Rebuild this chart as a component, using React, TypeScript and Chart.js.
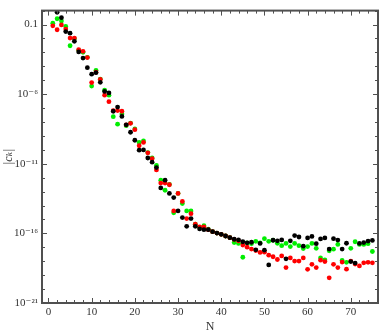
import React, { useEffect, useRef } from "react";
import { Chart, registerables } from "chart.js";

Chart.register(...registerables);

const nValues = [
  1, 2, 3, 4, 5, 6, 7, 8, 9, 10, 11, 12, 13, 14, 15, 16, 17, 18, 19, 20,
  21, 22, 23, 24, 25, 26, 27, 28, 29, 30, 31, 32, 33, 34, 35, 36, 37, 38, 39, 40,
  41, 42, 43, 44, 45, 46, 47, 48, 49, 50, 51, 52, 53, 54, 55, 56, 57, 58, 59, 60,
  61, 62, 63, 64, 65, 66, 67, 68, 69, 70, 71, 72, 73, 74, 75,
];

const blackValues: (number | null)[] = [
  null, 7.5e-1, 3.1e-1, 3.1e-2, 2.4e-2, 6.2e-3, 1.07e-3, 3.9e-4, 7.9e-5, 2.7e-5,
  3.5e-5, 7.1e-6, 1.56e-6, 1.23e-6, 5.9e-8, 1.17e-7, 2.5e-8, 6.3e-9, 1.84e-9, 4.9e-10,
  9.4e-11, 9.8e-11, 2.6e-11, 1.29e-11, 5.3e-12, 1.84e-13, 6.6e-13, 7.4e-14, 3.7e-14, 4.1e-15,
  1.36e-15, 3.2e-16, 1.16e-15, 3.2e-16, 2.1e-16, 1.84e-16, 1.84e-16, 1.33e-16, 1.05e-16, 8.5e-17,
  6.5e-17, 4.9e-17, 3.8e-17, 3.4e-17, 2.5e-17, 2.1e-17, 2.3e-17, 6.6e-18, 1.9e-17, 6.2e-18,
  5.4e-19, 3.2e-17, 2.9e-17, 3.4e-17, 1.5e-18, 2.9e-17, 7.0e-17, 5.5e-17, 1.21e-17, 4.7e-17,
  6.0e-17, 1.81e-17, 4.0e-17, 4.7e-17, 7.5e-18, 4.2e-17, 3.3e-17, 7.5e-18, 1.96e-17, 9.4e-19,
  7.4e-19, 1.9e-17, 2.2e-17, 2.8e-17, 3.1e-17,
];

const redValues = [
  8.0e-2, 4.2e-2, 9.4e-2, 4.7e-2, 1.07e-2, 1.07e-2, 1.56e-3, 1.19e-3, 4.2e-4, 6.8e-6,
  3.8e-5, 1.16e-5, 8.5e-7, 2.9e-7, 6.4e-8, 6.6e-8, 5.9e-8, 6.3e-9, 8.0e-9, 2.8e-9,
  1.96e-10, 3.4e-10, 6.1e-11, 2.3e-11, 3.6e-12, 4.1e-13, 4.1e-13, 3.1e-13, 4.1e-15, 7.4e-14,
  1.96e-14, 1.16e-15, 2.6e-15, 4.6e-16, 2.9e-16, 2.9e-16, 1.84e-16, 1.33e-16, 1.05e-16, 8.5e-17,
  6.5e-17, 4.9e-17, 3.7e-17, 2.9e-17, 1.47e-17, 1.03e-17, 7.5e-18, 5.9e-18, 4.3e-18, 4.5e-18,
  2.7e-18, 2.1e-18, 1.33e-18, 2.4e-18, 3.5e-19, 1.72e-18, 1.02e-18, 1.02e-18, 1.72e-18, 2.6e-19,
  6.0e-19, 3.5e-19, 1.19e-18, 9.4e-19, 6.4e-20, 6.0e-19, 3.5e-19, 8.7e-19, 2.7e-19, 1.02e-18,
  6.3e-19, 4.6e-19, 7.7e-19, 8.3e-19, 7.7e-19,
];

const greenValues = [
  1.23e-1, 2.6e-1, 1.78e-1, 7.3e-2, 3.0e-3, 9.5e-3, 1.4e-3, 1.02e-3, 4.4e-4, 3.8e-6,
  5.1e-5, 1.21e-5, 1.9e-6, 8.5e-7, 2.4e-8, 7.0e-9, 3.8e-8, 5.4e-9, 8.3e-9, 3.2e-9,
  3.4e-10, 4.4e-10, 6.4e-11, 2.6e-11, 7.6e-12, 6.6e-13, 1.25e-13, 3.3e-13, 3.0e-15, 7.4e-14,
  1.38e-14, 4.1e-15, 4.1e-15, 4.6e-16, 2.7e-16, 3.6e-16, 2.0e-16, 1.33e-16, 1.05e-16, 8.5e-17,
  6.5e-17, 4.9e-17, 2.2e-17, 1.9e-17, 1.93e-18, 2.1e-17, 1.81e-17, 2.7e-17, 2.1e-17, 4.2e-17,
  2.7e-17, 3.2e-17, 1.96e-17, 1.31e-17, 1.9e-17, 1.12e-17, 1.9e-17, 1.31e-17, 8.1e-18, 1.12e-17,
  1.9e-17, 8.5e-18, 1.72e-18, 1.25e-18, 5.6e-18, 7.3e-18, 1.61e-17, 1.14e-18, 8.3e-19, 8.5e-18,
  2.5e-17, 1.61e-17, 1.61e-17, 1.81e-17, 5.0e-18,
];

const xTickValues = [0, 10, 20, 30, 40, 50, 60, 70];
const xTickLabels = ["0", "10", "20", "30", "40", "50", "60", "70"];
const yTickValues = [1e-1, 1e-6, 1e-11, 1e-16, 1e-21];
const yTickLabels = ["0.1", "10\u207B\u2076", "10\u207B\u00B9\u00B9", "10\u207B\u00B9\u2076", "10\u207B\u00B2\u00B9"];

const FONT = "'Liberation Serif', 'DejaVu Serif', serif";
const AXIS_COLOR = "#505050";

const framePlugin = {
  id: "mmaFrame",
  afterDatasetsDraw(chart: any) {
    const { ctx, chartArea, scales } = chart;
    const { left, right, top, bottom } = chartArea;
    const xs = scales.x;
    const ys = scales.y;
    ctx.save();
    ctx.strokeStyle = AXIS_COLOR;
    ctx.lineWidth = 1;
    ctx.beginPath();
    for (let v = 0; v <= xs.max; v += 2) {
      const px = Math.round(xs.getPixelForValue(v)) + 0.5;
      const len = v % 10 === 0 ? 5 : 3;
      ctx.moveTo(px, bottom);
      ctx.lineTo(px, bottom - len);
      ctx.moveTo(px, top);
      ctx.lineTo(px, top + len);
    }
    for (let e = -21; e <= 0; e++) {
      const py = Math.round(ys.getPixelForValue(Math.pow(10, e))) + 0.5;
      const len = (e + 21) % 5 === 0 ? 5 : 3;
      ctx.moveTo(left, py);
      ctx.lineTo(left + len, py);
      ctx.moveTo(right, py);
      ctx.lineTo(right - len, py);
    }
    ctx.stroke();
    ctx.lineWidth = 2;
    ctx.strokeRect(left, top, right - left, bottom - top);
    ctx.restore();
  },
};

function makeData(values: (number | null)[]) {
  return nValues.map((n, i) => ({ x: n, y: values[i] }));
}

export default function App() {
  const canvasRef = useRef<HTMLCanvasElement | null>(null);

  useEffect(() => {
    document.body.style.margin = "0";
    const canvas = canvasRef.current;
    if (!canvas) return;
    const chart = new Chart(canvas, {
      type: "scatter",
      data: {
        datasets: [
          { label: "black", data: makeData(blackValues), backgroundColor: "#000000", pointRadius: 2.4, borderWidth: 0 },
          { label: "red", data: makeData(redValues), backgroundColor: "#ff0000", pointRadius: 2.4, borderWidth: 0 },
          { label: "green", data: makeData(greenValues), backgroundColor: "#00ee00", pointRadius: 2.4, borderWidth: 0 },
        ],
      },
      options: {
        responsive: false,
        animation: false,
        devicePixelRatio: 1,
        layout: { padding: { top: 1, right: 4, left: 0, bottom: 0 } },
        plugins: {
          legend: { display: false },
          tooltip: { enabled: false },
        },
        scales: {
          x: {
            type: "linear",
            min: -1.5,
            max: 76.3,
            grid: { display: false, drawTicks: false },
            border: { display: false },
            afterBuildTicks: (scale: any) => {
              scale.ticks = xTickValues.map((v) => ({ value: v }));
            },
            afterFit: (scale: any) => {
              scale.height = 32;
            },
            ticks: {
              autoSkip: false,
              maxRotation: 0,
              padding: 3,
              color: "#333",
              font: { family: FONT, size: 11 },
              callback: (value: any) => {
                const i = xTickValues.indexOf(Number(value));
                return i >= 0 ? xTickLabels[i] : "";
              },
            },
            title: {
              display: true,
              text: "N",
              color: "#333",
              font: { family: FONT, size: 12 },
              padding: { top: 0, bottom: 1 },
            },
          },
          y: {
            type: "logarithmic",
            min: 1e-21,
            max: 1,
            grid: { display: false, drawTicks: false },
            border: { display: false },
            afterBuildTicks: (scale: any) => {
              scale.ticks = yTickValues.map((v) => ({ value: v }));
            },
            afterFit: (scale: any) => {
              scale.width = 42;
            },
            ticks: {
              autoSkip: false,
              padding: 4,
              color: "#333",
              font: { family: FONT, size: 11 },
              callback: (value: any) => {
                const v = Number(value);
                const i = yTickValues.findIndex((t) => Math.abs(Math.log10(t) - Math.log10(v)) < 1e-6);
                return i >= 0 ? yTickLabels[i] : "";
              },
            },
            title: {
              display: true,
              text: "|c\u2096|",
              color: "#333",
              font: { family: FONT, size: 12, style: "italic" },
              padding: { top: 2, bottom: 0 },
            },
          },
        },
      },
      plugins: [framePlugin],
    });
    return () => chart.destroy();
  }, []);

  return (
    <div style={{ width: 382, height: 335 }}>
      <canvas ref={canvasRef} width={382} height={335} />
    </div>
  );
}
